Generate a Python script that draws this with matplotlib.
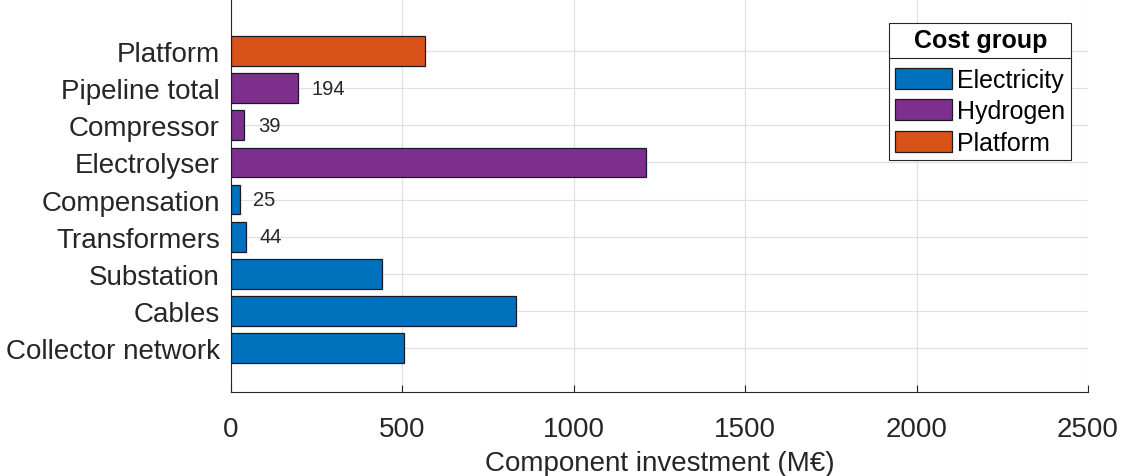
import matplotlib.pyplot as plt
from matplotlib.patches import Patch
from matplotlib.lines import Line2D

plt.rcParams['font.family'] = ['Liberation Sans', 'DejaVu Sans']

components = ["Collector network", "Cables", "Substation", "Transformers",
              "Compensation", "Electrolyser", "Compressor", "Pipeline total",
              "Platform"]
investment = [505, 832, 440, 44, 25, 1212, 39, 194, 566]
group = ["Electricity", "Electricity", "Electricity", "Electricity",
         "Electricity", "Hydrogen", "Hydrogen", "Hydrogen", "Platform"]
label_text = ["", "", "", "44", "25", "", "39", "194", ""]

groups = ["Electricity", "Hydrogen", "Platform"]
group_colors = {"Electricity": "#0072BD", "Hydrogen": "#7E2F8E", "Platform": "#D95319"}

dark = (0.15, 0.15, 0.15)

fig = plt.figure(figsize=(11.22, 4.77), dpi=100)
ax = fig.add_axes([231 / 1122, 1 - 393 / 477, (1088 - 231) / 1122, 393 / 477])

ypos = list(range(1, len(components) + 1))
ax.barh(ypos, investment, height=0.8,
        color=[group_colors[g] for g in group],
        edgecolor=(0.1, 0.1, 0.15), linewidth=0.9, zorder=3)

for y, v, t in zip(ypos, investment, label_text):
    if t:
        ax.annotate(t, (v, y), xytext=(10, 0), textcoords="offset points",
                    va="center", ha="left", fontsize=14.5, color=dark)

ax.set_xlim(0, 2500)
ax.set_ylim(-0.18, 10.4)
ax.set_xticks([0, 500, 1000, 1500, 2000, 2500])
ax.set_yticks(ypos)
ax.set_yticklabels(components)
ax.tick_params(axis="both", direction="in", labelsize=20, colors=dark,
               length=5, width=0.8)
ax.tick_params(axis="y", pad=8)
ax.tick_params(axis="x", pad=17)
ax.set_xlabel("Component investment (M\u20ac)", fontsize=20, color=dark, labelpad=6)

ax.grid(True, color=(0.88, 0.88, 0.88), linewidth=0.9, zorder=0)
ax.set_axisbelow(True)
for s in ["top", "right"]:
    ax.spines[s].set_visible(False)
for s in ["left", "bottom"]:
    ax.spines[s].set_color(dark)
    ax.spines[s].set_linewidth(0.8)

handles = [Patch(facecolor=group_colors[g], edgecolor=(0.1, 0.1, 0.15), linewidth=0.9)
           for g in groups]
leg = ax.legend(handles, groups, title="Cost group", loc="upper right",
                bbox_to_anchor=(1 - 17 / 857, 1 - 24 / 393), fontsize=18,
                title_fontproperties={"weight": "bold", "size": 18},
                frameon=True, fancybox=False, edgecolor=dark, framealpha=1,
                handlelength=2.3, handleheight=0.9, handletextpad=0.2,
                labelspacing=0.3, borderpad=0.22, borderaxespad=0)
leg.get_frame().set_linewidth(0.8)
leg._legend_box.sep = 11

fig.canvas.draw()
tb = leg.get_title().get_window_extent()
fb = leg.get_frame().get_window_extent()
inv = fig.transFigure.inverted()
ysep = tb.y0 - 5
(x0, y0), (x1, _) = inv.transform([(fb.x0, ysep), (fb.x1, ysep)])
fig.add_artist(Line2D([x0, x1], [y0, y0], color=dark, linewidth=0.8))

fig.savefig("out.png", dpi=100)
